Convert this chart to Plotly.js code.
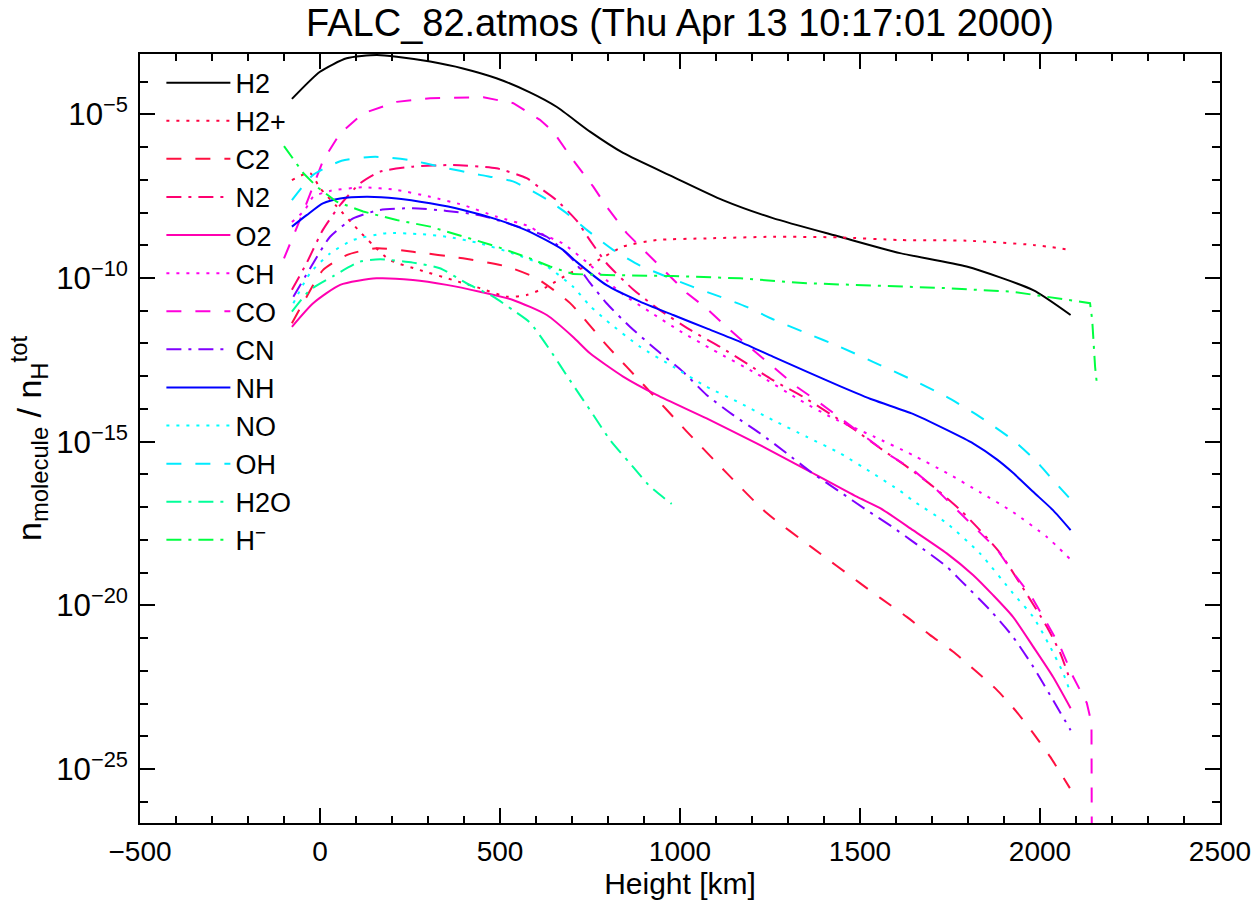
<!DOCTYPE html>
<html>
<head>
<meta charset="utf-8">
<script src="https://cdn.plot.ly/plotly-3.0.1.min.js"></script>
<style>html,body{margin:0;padding:0;background:#fff;}#plot{width:1260px;height:904px;}</style>
</head>
<body>
<div id="plot"></div>
<script>
// Heights [km] and log10(n_molecule / n_H^tot)
const hH2   = [-78, 0, 74, 157, 213, 306, 397, 490, 583, 657, 750, 842, 981, 1119, 1258, 1444, 1611, 1796, 1981, 2085];
const lgH2  = [-4.53, -3.70, -3.29, -3.19, -3.24, -3.39, -3.60, -3.90, -4.33, -4.77, -5.53, -6.18, -6.91, -7.62, -8.17, -8.74, -9.24, -9.65, -10.37, -11.13];

const hH2p  = [-78, -28, 0, 47, 106, 147, 194, 278, 369, 444, 519, 574, 630, 694, 750, 842, 935, 1074, 1258, 1444, 1611, 1796, 1981, 2085];
const lgH2p = [-7.01, -6.79, -7.25, -7.82, -8.53, -8.99, -9.45, -9.76, -10.06, -10.31, -10.57, -10.52, -10.27, -9.85, -9.60, -9.04, -8.84, -8.79, -8.74, -8.76, -8.84, -8.86, -8.99, -9.14];

const hC2   = [-78, -37, 8, 74, 157, 258, 397, 519, 602, 694, 796, 907, 1019, 1130, 1241, 1369, 1500, 1556, 1630, 1694, 1758, 1824, 1880, 1935, 1981, 2028, 2083];
const lgC2  = [-11.38, -10.57, -9.76, -9.30, -9.09, -9.20, -9.40, -9.65, -10.01, -10.76, -12.05, -13.36, -14.69, -15.96, -17.18, -18.25, -19.32, -19.77, -20.35, -20.90, -21.41, -22.03, -22.58, -23.25, -23.90, -24.62, -25.58];

const hN2   = [-78, -37, 8, 56, 111, 167, 258, 369, 490, 574, 611, 657, 713, 750, 796, 870, 944, 1032, 1111, 1185, 1258, 1342, 1417, 1486, 1556, 1630, 1703, 1778, 1833, 1889, 1944, 2019, 2056, 2085];
const lgN2  = [-10.36, -9.54, -8.53, -7.77, -7.11, -6.75, -6.60, -6.55, -6.65, -6.95, -7.25, -7.62, -8.25, -8.85, -9.55, -10.35, -10.98, -11.61, -12.10, -12.61, -13.12, -13.63, -14.15, -14.64, -15.20, -15.76, -16.37, -17.08, -17.70, -18.40, -19.32, -20.65, -21.45, -22.33];

const hO2   = [-78, -19, 56, 157, 258, 352, 444, 536, 630, 703, 750, 842, 935, 1074, 1213, 1352, 1491, 1556, 1647, 1741, 1814, 1869, 1925, 1981, 2036, 2085];
const lgO2  = [-11.49, -10.77, -10.21, -10.01, -10.06, -10.21, -10.42, -10.67, -11.13, -11.80, -12.30, -13.01, -13.57, -14.29, -15.05, -15.86, -16.68, -17.03, -17.70, -18.41, -19.07, -19.68, -20.35, -21.26, -22.18, -23.14];

const hCH   = [-78, -42, -19, 28, 119, 213, 306, 397, 491, 583, 611, 675, 750, 833, 917, 1000, 1092, 1214, 1333, 1425, 1536, 1647, 1742, 1833, 1925, 2019, 2083];
const lgCH  = [-8.29, -7.92, -7.52, -7.34, -7.23, -7.31, -7.52, -7.77, -8.13, -8.43, -8.63, -8.95, -9.60, -10.43, -11.04, -11.62, -12.20, -12.93, -13.73, -14.28, -14.83, -15.41, -15.96, -16.54, -17.15, -17.91, -18.58];

const hCO   = [-100, -48, 9, 56, 120, 213, 306, 398, 454, 537, 611, 648, 703, 759, 796, 852, 907, 963, 1019, 1074, 1139, 1203, 1258, 1324, 1389, 1453, 1519, 1583, 1644, 1713, 1778, 1833, 1880, 1926, 1977, 2019, 2056, 2092, 2130, 2143, 2147];
const lgCO  = [-9.40, -8.02, -6.40, -5.58, -4.97, -4.62, -4.51, -4.48, -4.48, -4.66, -5.17, -5.53, -6.40, -7.21, -7.82, -8.63, -9.24, -9.85, -10.46, -10.93, -11.59, -12.20, -12.71, -13.32, -13.82, -14.34, -14.90, -15.41, -15.83, -16.47, -17.18, -17.79, -18.28, -19.01, -19.74, -20.54, -21.26, -22.18, -22.98, -23.59, -40];

const hCN   = [-74, -19, 28, 92, 167, 258, 352, 444, 536, 630, 703, 750, 796, 861, 935, 1008, 1074, 1147, 1222, 1296, 1369, 1444, 1519, 1592, 1647, 1741, 1778, 1861, 1925, 1981, 2036, 2085];
const lgCN  = [-10.57, -9.55, -8.74, -8.18, -7.92, -7.87, -7.95, -8.08, -8.38, -8.74, -9.45, -10.15, -10.77, -11.49, -12.20, -12.86, -13.57, -14.18, -14.74, -15.35, -15.97, -16.53, -17.09, -17.62, -18.05, -18.82, -19.22, -20.14, -20.96, -21.87, -22.89, -23.81];

const hNH   = [-78, -37, 8, 56, 130, 213, 306, 397, 491, 583, 675, 712, 796, 889, 981, 1074, 1167, 1258, 1352, 1444, 1536, 1647, 1741, 1814, 1880, 1925, 1981, 2036, 2085];
const lgNH  = [-8.43, -8.08, -7.72, -7.57, -7.52, -7.57, -7.72, -7.92, -8.21, -8.59, -9.14, -9.50, -10.22, -10.72, -11.13, -11.54, -11.95, -12.40, -12.86, -13.30, -13.72, -14.15, -14.64, -15.05, -15.54, -15.95, -16.53, -17.09, -17.70];

const hNO   = [-74, -28, 28, 92, 185, 278, 352, 444, 536, 630, 703, 750, 796, 889, 981, 1074, 1167, 1258, 1352, 1444, 1536, 1611, 1647, 1741, 1833, 1925, 1981, 2028, 2064, 2085];
const lgNO  = [-10.77, -9.86, -9.25, -8.84, -8.63, -8.66, -8.74, -8.94, -9.25, -9.65, -10.27, -10.85, -11.30, -12.10, -12.71, -13.32, -13.82, -14.34, -14.85, -15.35, -15.97, -16.50, -16.80, -17.49, -18.41, -19.63, -20.35, -21.26, -22.06, -22.68];

const hOH   = [-78, -19, 60, 153, 250, 333, 444, 536, 630, 685, 741, 814, 889, 963, 1036, 1111, 1185, 1258, 1352, 1444, 1536, 1647, 1741, 1833, 1925, 1991, 2036, 2085];
const lgOH  = [-7.62, -6.85, -6.42, -6.30, -6.40, -6.60, -6.85, -7.05, -7.60, -8.02, -8.53, -9.14, -9.62, -9.96, -10.27, -10.57, -10.88, -11.26, -11.69, -12.10, -12.56, -13.12, -13.63, -14.24, -14.95, -15.61, -16.17, -16.76];

const hH2O  = [-78, -28, 37, 111, 167, 258, 333, 407, 481, 536, 583, 639, 694, 750, 806, 861, 917, 977];
const lgH2O = [-11.03, -10.37, -9.94, -9.50, -9.43, -9.53, -9.70, -10.16, -10.57, -10.98, -11.36, -12.20, -13.12, -14.03, -14.95, -15.66, -16.37, -16.90];

const hHm   = [-100, -46, -9, 46, 120, 213, 306, 398, 491, 583, 639, 703, 796, 981, 1167, 1352, 1556, 1741, 1925, 2139, 2145, 2153, 2159];
const lgHm  = [-5.97, -6.80, -7.21, -7.67, -7.97, -8.23, -8.43, -8.74, -9.04, -9.40, -9.65, -9.88, -9.91, -9.94, -10.01, -10.16, -10.24, -10.31, -10.42, -10.77, -11.28, -12.71, -13.34];

const molecules = ['H2', 'H2+', 'C2', 'N2', 'O2', 'CH', 'CO', 'CN', 'NH', 'NO', 'OH', 'H2O', 'H<sup>−</sup>'];
const heights   = [hH2, hH2p, hC2, hN2, hO2, hCH, hCO, hCN, hNH, hNO, hOH, hH2O, hHm];
const logAbund  = [lgH2, lgH2p, lgC2, lgN2, lgO2, lgCH, lgCO, lgCN, lgNH, lgNO, lgOH, lgH2O, lgHm];

// styles
const DOT = '3px,7px', DASH = '15px,14px', DASHDOT = '15px,7px,3px,7px';
const colors = ['#000000', '#ff0040', '#ff1040', '#ff0070', '#ff00b0', '#ff00f0', '#ff00dc', '#8000ff', '#0000ff', '#00ffff', '#00eaff', '#00ff99', '#00ff40'];
const dashes = ['solid', DOT, DASH, DASHDOT, 'solid', DOT, DASH, DASHDOT, 'solid', DOT, DASH, DASHDOT, DASHDOT];
// curves with an abrupt final drop keep straight segments
const shapes = ['spline', 'spline', 'spline', 'spline', 'spline', 'spline', 'linear', 'spline', 'spline', 'spline', 'spline', 'spline', 'linear'];

const traces = molecules.map((m, i) => ({
  type: 'scatter', mode: 'lines', name: m,
  x: heights[i],
  y: logAbund[i].map(v => Math.pow(10, v)),
  line: {color: colors[i], width: 2, dash: dashes[i], shape: shapes[i], smoothing: 0.6},
  hoverinfo: 'x+y+name'
}));

const FONT = 'Liberation Sans, Arial, Helvetica, sans-serif';
const layout = {
  width: 1260, height: 904,
  margin: {l: 140, r: 40, t: 54, b: 81, pad: 0},
  paper_bgcolor: '#ffffff', plot_bgcolor: '#ffffff',
  font: {family: FONT, color: '#000000', size: 28},
  title: {text: 'FALC_82.atmos (Thu Apr 13 10:17:01 2000)', font: {family: FONT, size: 38, color: '#000'},
          xref: 'paper', x: 0.5, xanchor: 'center', yref: 'container', y: 0.975, yanchor: 'middle'},
  showlegend: true,
  legend: {x: 0.0198, y: 0.994, xanchor: 'left', yanchor: 'top', bgcolor: 'rgba(0,0,0,0)', borderwidth: 0,
           font: {family: FONT, size: 27, color: '#000'}, itemwidth: 64, tracegroupgap: 0},
  xaxis: {
    range: [-500, 2500], tick0: 0, dtick: 500, ticks: 'inside', ticklen: 15, tickwidth: 2, tickcolor: '#000',
    showline: true, linewidth: 2, linecolor: '#000', mirror: 'ticks', showgrid: false, zeroline: false,
    minor: {dtick: 100, ticks: 'inside', ticklen: 7, tickwidth: 2, tickcolor: '#000', showgrid: false},
    tickfont: {family: FONT, size: 28}, ticklabelstandoff: 2,
    title: {text: 'Height [km]', font: {family: FONT, size: 30}, standoff: 6}
  },
  yaxis: {
    type: 'log', range: [-26.646, -3.158], tick0: 0, dtick: 5, exponentformat: 'power',
    ticks: 'inside', ticklen: 15, tickwidth: 2, tickcolor: '#000',
    showline: true, linewidth: 2, linecolor: '#000', mirror: 'ticks', showgrid: false, zeroline: false,
    minor: {dtick: 1, ticks: 'inside', ticklen: 8, tickwidth: 2, tickcolor: '#000', showgrid: false},
    tickfont: {family: FONT, size: 25}, ticklabelstandoff: 5,
    title: {text: 'n<sub>molecule</sub> / n<sub>H</sub><sup>tot</sup>', font: {family: FONT, size: 34}, standoff: 4}
  }
};

Plotly.newPlot('plot', traces, layout, {staticPlot: true, displayModeBar: false});
</script>
</body>
</html>
